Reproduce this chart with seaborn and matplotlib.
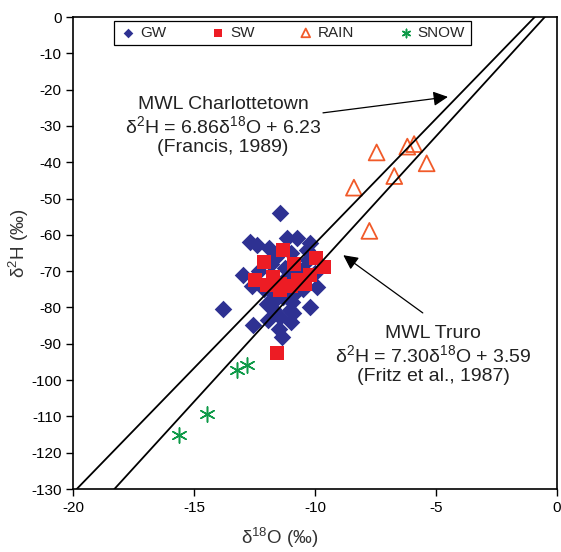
import numpy as np
import pandas as pd
import matplotlib
matplotlib.use("Agg")
import matplotlib.pyplot as plt
import seaborn as sns

# ---------------------------
# Data
# ---------------------------
gw_o18 = [-11.45, -12.68, -12.41, -11.17, -10.76, -10.21, -12.97, -13.79, -12.55, -11.38,
          -10.21, -9.93, -11.03, -11.73, -11.93, -11.31, -10.83, -11.58, -11.73, -10.96,
          -10.55, -11.24, -10.34, -11.60, -12.30, -10.00, -11.00, -12.10, -10.90, -11.45,
          -11.20, -10.80, -11.80, -10.50, -12.00, -11.50, -10.30, -12.60, -11.00, -11.90]
gw_h2 = [-54.0, -62.0, -62.8, -61.0, -61.0, -62.3, -71.1, -80.3, -84.8, -88.1,
         -79.8, -74.3, -80.7, -80.3, -83.5, -77.0, -76.1, -77.5, -76.1, -78.4,
         -69.7, -69.2, -64.2, -66.0, -70.0, -70.5, -65.0, -75.0, -81.6, -82.6,
         -72.0, -70.0, -68.0, -75.0, -79.0, -86.0, -67.0, -74.0, -84.0, -63.5]

sw_o18 = [-11.34, -12.10, -10.87, -9.96, -9.61, -12.48, -11.97, -11.45, -11.72, -10.69,
          -10.21, -11.45, -10.41, -11.57, -11.00]
sw_h2 = [-64.2, -67.4, -67.9, -66.5, -68.8, -72.3, -73.8, -73.4, -71.6, -72.5,
         -71.1, -75.2, -73.4, -92.6, -74.0]

rain_o18 = [-7.45, -6.18, -5.90, -5.38, -6.72, -8.39, -7.75]
rain_h2 = [-37.3, -35.7, -35.0, -40.3, -43.8, -47.0, -58.9]

snow_o18 = [-15.63, -14.48, -13.24, -12.83]
snow_h2 = [-115.1, -109.4, -97.1, -95.9]

# meteoric water lines: slope, intercept
mwl_names = ["Charlottetown", "Truro"]
mwl_slope = [6.86, 7.30]
mwl_icept = [6.23, 3.59]

x_ticks = [-20, -15, -10, -5, 0]
y_ticks = list(range(-130, 1, 10))

# ---------------------------
# Style
# ---------------------------
sns.set_style("ticks")
plt.rcParams['font.family'] = ['Liberation Sans', 'DejaVu Sans']
plt.rcParams['mathtext.fontset'] = 'custom'
plt.rcParams['mathtext.rm'] = 'Liberation Sans'
plt.rcParams['mathtext.it'] = 'Liberation Sans:italic'
plt.rcParams['axes.unicode_minus'] = False

fig = plt.figure(figsize=(5.61, 5.52), dpi=100)
ax = fig.add_axes([0.1307, 0.1141, 0.8616, 0.8551])

sns.scatterplot(x=gw_o18, y=gw_h2, marker='D', s=80, color='#2E3192',
                edgecolor='#2E3192', linewidth=0, label='GW', ax=ax, zorder=2)
sns.scatterplot(x=sw_o18, y=sw_h2, marker='s', s=100, color='#ED1C24',
                edgecolor='#ED1C24', linewidth=0, label='SW', ax=ax, zorder=3)
sns.scatterplot(x=rain_o18, y=rain_h2, marker='^', s=130, facecolors='none',
                edgecolor='#F15A29', linewidth=1.3, label='RAIN', ax=ax, zorder=3)
sns.scatterplot(x=snow_o18, y=snow_h2, marker=(6, 2, 0), s=120, color='#0E9A48',
                edgecolor='#0E9A48', linewidth=1.1, label='SNOW', ax=ax, zorder=3)

# MWL lines
xs = np.array([x_ticks[0], x_ticks[-1]], dtype=float)
for m, b in zip(mwl_slope, mwl_icept):
    sns.lineplot(x=xs, y=m * xs + b, color='black', linewidth=1.3, ax=ax,
                 zorder=4, legend=False)

ax.set_xlim(-20, 0)
ax.set_ylim(-130, 0)
ax.set_xticks(x_ticks)
ax.set_yticks(y_ticks)
ax.tick_params(axis='both', labelsize=11, length=5, width=1, direction='out',
               colors='black')
for sp in ax.spines.values():
    sp.set_visible(True)
    sp.set_linewidth(1.2)
    sp.set_color('black')

ax.set_xlabel('δ$^{18}$O (‰)', fontsize=13.5, color='#333333')
ax.set_ylabel('δ$^{2}$H (‰)', fontsize=13.5, color='#333333')
ax.xaxis.set_label_coords(0.428, -0.078)
ax.yaxis.set_label_coords(-0.088, 0.52)

# annotations
ax.text(-13.81, -30.0, 'MWL Charlottetown\nδ$^{2}$H = 6.86δ$^{18}$O + 6.23\n(Francis, 1989)',
        ha='center', va='center', fontsize=14, linespacing=1.15, color='#222222')
ax.annotate('', xy=(-4.50, -22.0), xytext=(-9.67, -26.4),
            arrowprops=dict(arrowstyle='-|>', mutation_scale=22, lw=0.9,
                            color='black', shrinkA=0, shrinkB=0))

ax.text(-5.12, -93.1, 'MWL Truro\nδ$^{2}$H = 7.30δ$^{18}$O + 3.59\n(Fritz et al., 1987)',
        ha='center', va='center', fontsize=14, linespacing=1.15, color='#222222')
ax.annotate('', xy=(-8.83, -65.6), xytext=(-5.54, -81.5),
            arrowprops=dict(arrowstyle='-|>', mutation_scale=22, lw=0.9,
                            color='black', shrinkA=0, shrinkB=0))

leg = ax.legend(loc='lower left', bbox_to_anchor=(0.0676, 0.924, 0.77, 0.059),
                mode='expand', ncol=4, fontsize=11, markerscale=0.55,
                handletextpad=0.2, handlelength=1.2, borderpad=0.35,
                fancybox=False, framealpha=1, edgecolor='black')
leg.get_frame().set_linewidth(0.9)

fig.savefig('out.png', dpi=100)
